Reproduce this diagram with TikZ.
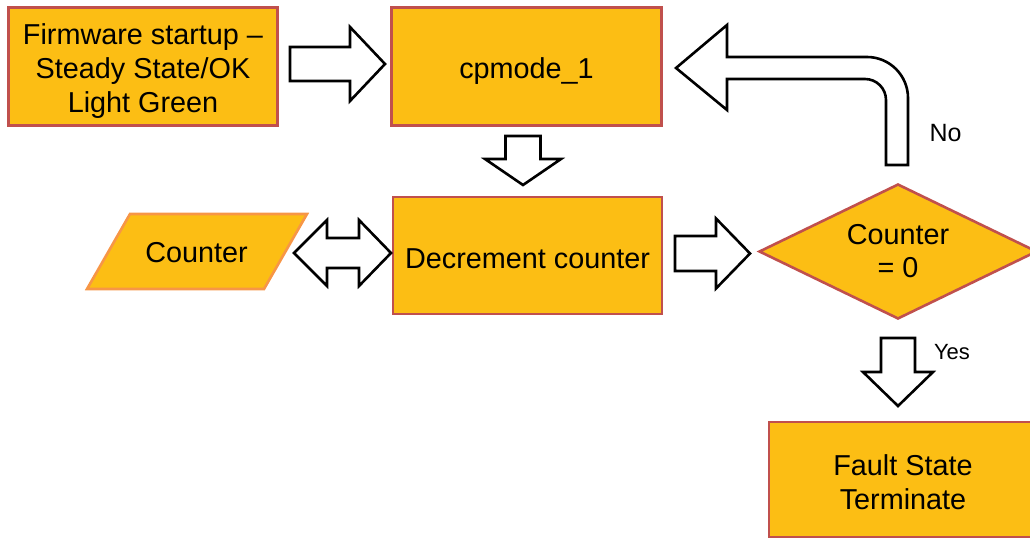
\documentclass[tikz,border=0pt]{standalone}
\usepackage{fontspec}
\setmainfont{Liberation Sans}
\usetikzlibrary{shapes.geometric}

\definecolor{boxfill}{RGB}{252,190,20}
\definecolor{boxline}{RGB}{192,80,77}
\definecolor{dataline}{RGB}{247,150,70}

\tikzset{
  procbox/.style={rectangle, draw=boxline, fill=boxfill, line width=2.6pt,
    align=center, inner sep=0pt, font=\fontsize{28.8}{34}\selectfont},
  decision/.style={diamond, aspect=2.06, draw=boxline, fill=boxfill, line width=2.6pt,
    align=center, inner sep=0pt, minimum width=278pt, minimum height=135pt,
    font=\fontsize{28.8}{33}\selectfont},
  datashape/.style={draw=dataline, fill=boxfill, line width=2.6pt, line join=miter},
  datatext/.style={inner sep=0pt, font=\fontsize{28.8}{34}\selectfont},
  barrow/.style={draw=black, fill=white, line width=2.6pt, line join=miter},
  lbl/.style={inner sep=0pt},
}

% invisible strut that sets the height of a first text line
\newcommand\txtstrut[1]{\rule{0pt}{#1pt}}

% straight block arrow: tail point, direction, length, head length,
% shaft half width, head half width
\newcommand\blockarrow[6]{%
  \draw[barrow, shift={(#1)}, rotate=#2]
    (0,-#5) -- ({#3-#4},-#5) -- ({#3-#4},-#6) -- (#3,0)
    -- ({#3-#4},#6) -- ({#3-#4},#5) -- (0,#5) -- cycle;}

\begin{document}
\begin{tikzpicture}[x=1pt, y=-1pt]
  \clip (0,0) rectangle (1030,540);
  \useasboundingbox (0,0) rectangle (1030,540);

  % process boxes
  \node[procbox, minimum width=269pt, minimum height=118pt] (fw) at (143,66.5)
    {\txtstrut{29.6}Firmware startup --\\Steady State/OK\\Light Green};
  \node[procbox, minimum width=270pt, minimum height=118pt] (cp) at (526.5,66.5)
    {\txtstrut{29.6}cpmode\_1};
  \node[procbox, minimum width=269pt, minimum height=117pt] (dec) at (527.5,255.5)
    {\txtstrut{25.6}Decrement counter};
  \node[procbox, minimum width=268pt, minimum height=115pt] (fault) at (903,479.5)
    {\txtstrut{25.6}Fault State\\Terminate};

  % data store
  \draw[datashape] (87,289) -- (130,214) -- (307,214) -- (264,289) -- cycle;
  \node[datatext] (cnt) at (196.5,252.5) {Counter};

  % decision
  \node[decision] (dia) at (898,251.5) {Counter\\= 0};

  % connectors
  \coordinate (a1) at (290,64);
  \coordinate (a2) at (523,136);
  \coordinate (a3) at (675,253.5);
  \coordinate (a4) at (898,338);
  \blockarrow{a1}{0}{95}{35}{17}{37}
  \blockarrow{a2}{-90}{49}{26}{17.5}{38}
  \blockarrow{a3}{0}{75}{34}{17.5}{35}
  \blockarrow{a4}{-90}{68}{34}{17}{35}

  % two-way arrow between counter and decrement
  \draw[barrow] (294,253) -- (327,220) -- (327,238) -- (359,238) -- (359,220)
    -- (391,253) -- (359,286) -- (359,268) -- (327,268) -- (327,286) -- cycle;

  % loop-back arrow from the decision to cpmode_1
  \draw[barrow] (676,68) -- (727,25) -- (727,57) -- (867,57)
    .. controls (889.6,57) and (908,75.4) .. (908,98) -- (908,165)
    -- (886,165) -- (886,100)
    .. controls (886,88.4) and (876.6,79) .. (865,79)
    -- (727,79) -- (727,110) -- cycle;

  % branch labels
  \node[lbl, font=\fontsize{25}{30}\selectfont] (nolbl) at (945.5,133) {No};
  \node[lbl, font=\fontsize{22}{26}\selectfont] (yeslbl) at (952,352) {Yes};
\end{tikzpicture}
\end{document}
